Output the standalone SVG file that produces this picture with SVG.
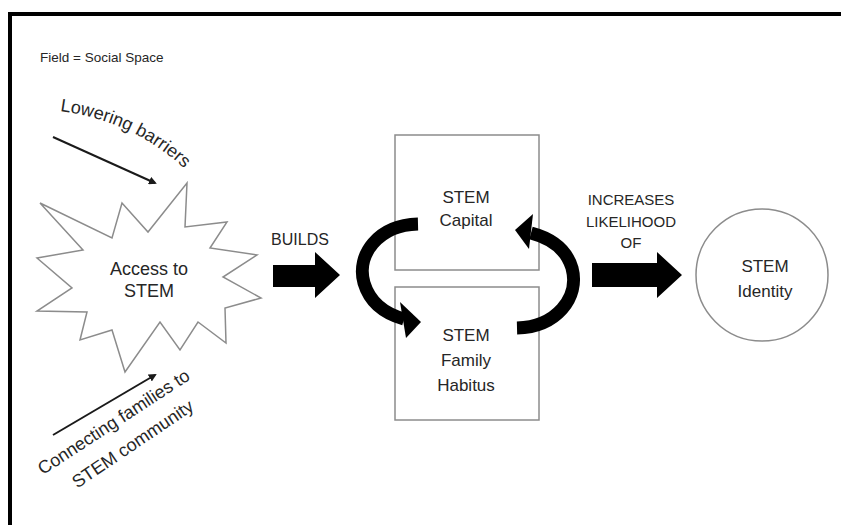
<svg xmlns="http://www.w3.org/2000/svg" width="841" height="525" viewBox="0 0 841 525">
<defs>
<style>
.t{font-family:"Liberation Sans",Arial,sans-serif;fill:#262626;}
.lbl{font-size:17px;text-anchor:middle;}
.cap{font-size:15px;text-anchor:middle;}
.box{fill:#fff;stroke:#8c8c8c;stroke-width:1.5;}
.thin{fill:none;stroke:#1a1a1a;stroke-width:2;}
.curve{fill:none;stroke:#000;stroke-width:13;}
</style>
<marker id="ah" markerWidth="8" markerHeight="8" refX="6" refY="4" orient="auto" markerUnits="userSpaceOnUse">
<path d="M0,0 L8,4 L0,8 Z" fill="#1a1a1a"/>
</marker>
<path id="lowerPath" d="M60,111 Q142,122 198,182"/>
</defs>
<rect width="841" height="525" fill="#fff"/>
<!-- frame -->
<path d="M10,525 V14 H841" fill="none" stroke="#000" stroke-width="4"/>
<text class="t" x="40" y="62" font-size="13.5">Field = Social Space</text>

<g id="connectors">
<text class="t" font-size="18"><textPath href="#lowerPath">Lowering barriers</textPath></text>
<line class="thin" x1="53" y1="137" x2="155" y2="183" marker-end="url(#ah)"/>
<text class="t" font-size="18" text-anchor="middle" transform="rotate(-33 117 427)" x="117" y="427">Connecting families to</text>
<text class="t" font-size="18" text-anchor="middle" transform="rotate(-34 136 449)" x="136" y="449">STEM community</text>
<line class="thin" x1="53" y1="435" x2="155" y2="375" marker-end="url(#ah)"/>
<text class="t" x="300" y="245" font-size="16" text-anchor="middle">BUILDS</text>
<path d="M273,265 H315 V252 L340,275 L315,298 V287 H273 Z" fill="#000"/>
<text class="t cap" x="631" y="205">INCREASES</text>
<text class="t cap" x="631" y="227">LIKELIHOOD</text>
<text class="t cap" x="631" y="248">OF</text>
<path d="M592,263 H657 V252 L682,275 L657,298 V287 H592 Z" fill="#000"/>
</g>

<g id="access">
<polygon points="187,183 185,227 227,222 210,248 257,255 223,277 261,298 225,308 226,343 198,322 180,350 160,322 125,372 112,330 80,340 87,312 37,311 72,288 37,258 83,250 40,203 112,238 122,203 148,232" fill="#fff" stroke="#8c8c8c" stroke-width="1.5" stroke-linejoin="miter"/>
<text class="t" x="149" y="275" font-size="18" text-anchor="middle">Access to</text>
<text class="t" x="149" y="297" font-size="18" text-anchor="middle">STEM</text>
</g>

<g id="capital">
<rect class="box" x="395" y="135" width="144" height="135"/>
<text class="t lbl" x="466" y="203">STEM</text>
<text class="t lbl" x="466" y="226">Capital</text>
</g>

<g id="habitus">
<rect class="box" x="395" y="287" width="144" height="133"/>
<text class="t lbl" x="466" y="341">STEM</text>
<text class="t lbl" x="466" y="366">Family</text>
<text class="t lbl" x="466" y="391">Habitus</text>
</g>

<g id="cycle">
<path class="curve" d="M418,224 C378,225 356,255 364,283 C370,303 386,314 404,319"/>
<polygon points="421,322 400,302 406,338" fill="#000"/>
<path class="curve" d="M517,328 C556,327 580,298 572,268 C566,248 550,238 531,233"/>
<polygon points="515,230 533,214 529,249" fill="#000"/>
</g>

<g id="identity">
<circle cx="762" cy="275" r="66" fill="#fff" stroke="#8c8c8c" stroke-width="1.5"/>
<text class="t lbl" x="765" y="272">STEM</text>
<text class="t lbl" x="765" y="297">Identity</text>
</g>
</svg>
